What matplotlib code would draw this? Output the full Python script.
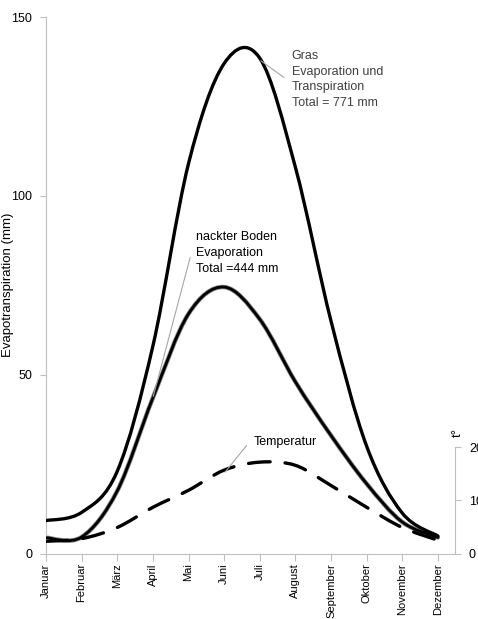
import matplotlib
matplotlib.use("Agg")
import matplotlib.pyplot as plt
from matplotlib.path import Path
from matplotlib.patches import PathPatch
import numpy as np

# monthly values
months = ["Januar", "Februar", "März", "April", "Mai", "Juni", "Juli",
          "August", "September", "Oktober", "November", "Dezember"]
gras = [9.2, 11.5, 23, 58, 109, 137, 138.5, 108, 65, 30, 11.3, 4.9]
boden = [4.4, 4.6, 17.5, 43.5, 67, 74.5, 65.5, 48, 33, 19.5, 8.8, 4.5]
temperatur = [2.3, 2.8, 4.9, 8.7, 11.9, 15.7, 17.2, 16.6, 12.8, 8.7, 4.9, 2.5]

plt.rcParams['font.family'] = ['Liberation Sans Narrow', 'Liberation Sans', 'DejaVu Sans']
grey = "#bfbfbf"


def smooth_path(x, y):
    # Bezier path through the points, like a spreadsheet "smoothed line"
    x = np.asarray(x, float)
    y = np.asarray(y, float)
    pts = np.column_stack([x, y])
    verts = [pts[0]]
    codes = [Path.MOVETO]
    n = len(pts)
    for i in range(n - 1):
        p0 = pts[i - 1] if i > 0 else pts[i]
        p1 = pts[i]
        p2 = pts[i + 1]
        p3 = pts[i + 2] if i + 2 < n else pts[i + 1]
        c1 = p1 + (p2 - p0) / 6.0
        c2 = p2 - (p3 - p1) / 6.0
        verts += [c1, c2, p2]
        codes += [Path.CURVE4] * 3
    return Path(verts, codes)


fig = plt.figure(figsize=(4.78, 6.19), dpi=100)
ax = fig.add_axes([0.0962, 0.1058, 0.8557, 0.8667])
ax2 = ax.twinx()

x = np.arange(len(months))

# grass and bare soil curves
ax.add_patch(PathPatch(smooth_path(x, gras), fill=False, lw=2.4, color="black",
                       capstyle="round", zorder=3))
ax.add_patch(PathPatch(smooth_path(x, boden), fill=False, lw=3.2, color="#7f7f7f",
                       capstyle="round", zorder=2))
ax.add_patch(PathPatch(smooth_path(x, boden), fill=False, lw=2.0, color="black",
                       capstyle="round", zorder=3))

# temperature on the secondary axis
ax2.add_patch(PathPatch(smooth_path(x, temperatur), fill=False, lw=2.4, color="black",
                        linestyle=(0, (6.5, 4.5)), capstyle="round"))

ax.set_xlim(0, 11.48)
ax.set_ylim(0, 150)
ax2.set_ylim(0, 101)

ax.set_yticks([0, 50, 100, 150])
ax.set_xticks(x)
ax.set_xticklabels(months, rotation=90, fontsize=8)
ax.tick_params(axis="y", labelsize=9, length=4, color=grey, pad=6)
ax.tick_params(axis="x", length=5, color=grey, pad=2)
ax.set_ylabel("Evapotranspiration (mm)", fontsize=9.5)
ax.yaxis.set_label_coords(-0.078, 0.5)

for s in ["top", "right"]:
    ax.spines[s].set_visible(False)
for s in ["left", "bottom"]:
    ax.spines[s].set_color(grey)

for s in ["top", "left", "bottom"]:
    ax2.spines[s].set_visible(False)
ax2.spines["right"].set_color(grey)
ax2.spines["right"].set_bounds(0, 20)
ax2.set_yticks([0, 10, 20])
ax2.tick_params(axis="y", labelsize=9, length=4, color=grey, pad=6)
ax2.text(11.55, 22, "t°", rotation=90, fontsize=9.5, ha="center", va="bottom",
         transform=ax2.transData, clip_on=False)

# data labels with leader lines
leader = dict(arrowstyle="-", color="#a6a6a6", lw=0.8, shrinkA=4, shrinkB=1,
              relpos=(0, 0.5),
              connectionstyle="arc,angleA=180,armA=5,angleB=0,armB=0,rad=0")
ax.annotate("Gras\nEvaporation und\nTranspiration\nTotal = 771 mm",
            xy=(6, gras[6] - 0.5), xytext=(6.90, 132.5), fontsize=9,
            linespacing=1.4, ha="left", va="center", color="#404040",
            arrowprops=leader)
ax.annotate("nackter Boden\nEvaporation\nTotal =444 mm",
            xy=(3, boden[3]), xytext=(4.22, 84), fontsize=9,
            linespacing=1.4, ha="left", va="center", color="black",
            arrowprops=leader)
ax2.annotate("Temperatur", xy=(5, temperatur[5] - 0.6), xytext=(5.84, 20.9),
             fontsize=9, ha="left", va="center", color="black",
             arrowprops=leader)

fig.savefig("out.png", dpi=100)
